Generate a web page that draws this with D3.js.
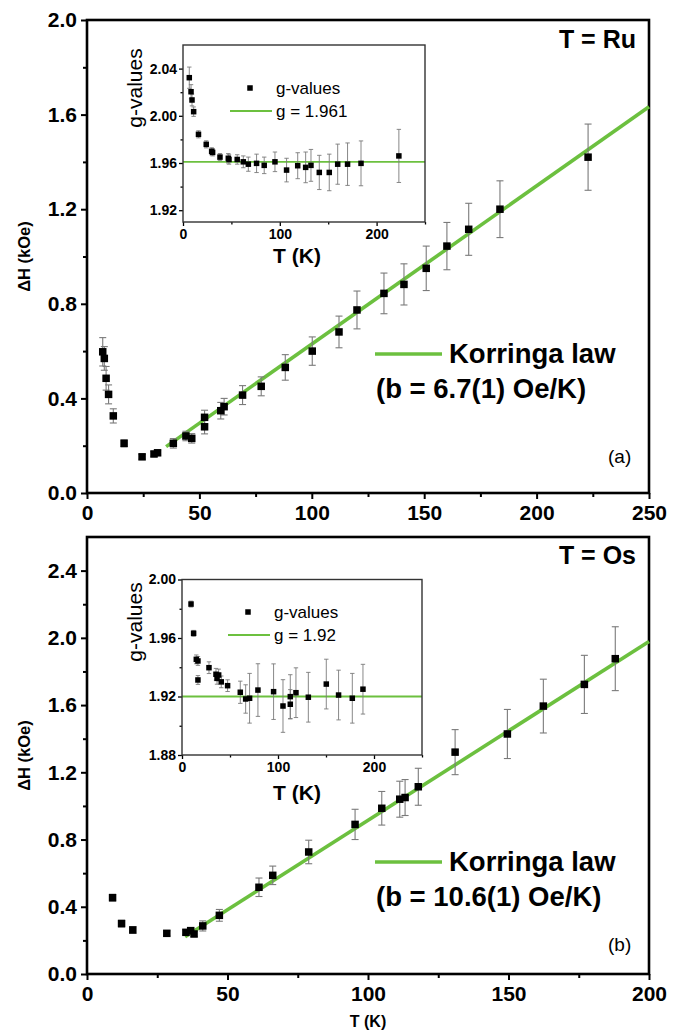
<!DOCTYPE html>
<html><head><meta charset="utf-8">
<script src="https://cdn.jsdelivr.net/npm/d3@7"></script>
<style>
html,body{margin:0;padding:0;background:#fff;}
svg{display:block;font-family:"Liberation Sans",Arial,Helvetica,sans-serif;}
</style></head>
<body>
<svg id="c" width="684" height="1034"></svg>
<script>
// ---------- Panel (a): T = Ru ----------
const tempA = [7.0, 7.7, 8.5, 9.6, 11.7, 16.5, 24.5, 29.8, 31.4, 38.4, 44, 46.6, 52.3, 52.3, 59.5, 61, 69.2, 77.5, 88.2, 100.2, 112.1, 120.1, 132.1, 141, 150.9, 160.1, 169.8, 183.7, 222.9];
const dHA   = [0.597, 0.569, 0.485, 0.417, 0.326, 0.21, 0.153, 0.165, 0.17, 0.21, 0.241, 0.231, 0.32, 0.28, 0.348, 0.365, 0.414, 0.451, 0.531, 0.600, 0.681, 0.774, 0.844, 0.882, 0.95, 1.044, 1.115, 1.20, 1.42];
const errA  = [0.06, 0.05, 0.05, 0.04, 0.03, 0.015, 0.01, 0.01, 0.01, 0.02, 0.02, 0.02, 0.03, 0.03, 0.035, 0.035, 0.04, 0.04, 0.054, 0.06, 0.067, 0.08, 0.086, 0.087, 0.094, 0.10, 0.11, 0.12, 0.14];
const fitA_T  = [35.2, 250];
const fitA_dH = [0.196, 1.633];

const gTempA = [6.5, 8.3, 9.3, 11, 16, 24, 29.6, 30.6, 38.2, 46.8, 47.5, 56, 62.3, 67.5, 76, 83.9, 95, 107, 118.5, 126.7, 132.2, 140.8, 151.1, 159.8, 170, 183.9, 223];
const gA     = [2.0323, 2.0204, 2.0134, 2.0035, 1.9843, 1.9758, 1.9699, 1.969, 1.965, 1.964, 1.963, 1.963, 1.961, 1.959, 1.9597, 1.958, 1.961, 1.954, 1.9577, 1.9563, 1.958, 1.952, 1.952, 1.959, 1.959, 1.9597, 1.966];
const gErrA  = [0.009, 0.006, 0.005, 0.004, 0.003, 0.003, 0.003, 0.003, 0.003, 0.004, 0.004, 0.004, 0.005, 0.006, 0.0078, 0.007, 0.0083, 0.01, 0.011, 0.013, 0.0135, 0.0145, 0.0155, 0.017, 0.018, 0.019, 0.0225];
const gFitA  = 1.961;

// ---------- Panel (b): T = Os ----------
const tempB = [9.1, 12.3, 16.3, 28.4, 35.2, 36.9, 38.1, 41.2, 47.1, 61.2, 66.1, 78.9, 95.4, 104.9, 111.3, 113.2, 117.9, 131, 149.6, 162.4, 177, 188];
const dHB   = [0.454, 0.30, 0.262, 0.242, 0.248, 0.258, 0.238, 0.286, 0.349, 0.516, 0.587, 0.726, 0.89, 0.986, 1.04, 1.05, 1.114, 1.32, 1.428, 1.594, 1.723, 1.876];
const errB  = [0.02, 0.02, 0.02, 0.015, 0.015, 0.015, 0.015, 0.03, 0.035, 0.055, 0.055, 0.07, 0.09, 0.1, 0.107, 0.107, 0.11, 0.134, 0.146, 0.16, 0.173, 0.19];
const fitB_T  = [34.9, 200];
const fitB_dH = [0.222, 1.978];

const gTempB = [9.4, 12.1, 14.9, 16.6, 16.6, 28.1, 35.4, 38.2, 36.5, 40.9, 47.5, 60.7, 66.3, 70.4, 79.1, 95.4, 105.2, 112.8, 112.8, 118.7, 131.6, 150.3, 163.1, 177.4, 188.5];
const gB     = [1.9832, 1.9632, 1.9454, 1.9443, 1.9313, 1.9397, 1.9352, 1.9347, 1.9324, 1.930, 1.9274, 1.9229, 1.9183, 1.9188, 1.9244, 1.9233, 1.9135, 1.9199, 1.9147, 1.9226, 1.9195, 1.9285, 1.921, 1.9188, 1.925];
const gErrB  = [0.002, 0.002, 0.003, 0.003, 0.003, 0.004, 0.004, 0.004, 0.004, 0.004, 0.004, 0.0076, 0.0097, 0.017, 0.018, 0.019, 0.018, 0.015, 0.01, 0.017, 0.017, 0.017, 0.017, 0.017, 0.017];
const gFitB  = 1.92;

// ---------- tick labels ----------
const xTicksA = [0, 50, 100, 150, 200, 250];
const yTicksA = [0.0, 0.4, 0.8, 1.2, 1.6, 2.0];
const xTicksB = [0, 50, 100, 150, 200];
const yTicksB = [0.0, 0.4, 0.8, 1.2, 1.6, 2.0, 2.4];
const gxTicks = [0, 100, 200];
const gyTicksA = [1.92, 1.96, 2.00, 2.04];
const gyTicksB = [1.88, 1.92, 1.96, 2.00];

const GREEN = "#6cc03f";
const svg = d3.select("#c");

function seq(a, b, s){ const r=[]; for(let v=a; v<=b+1e-9; v+=s) r.push(+v.toFixed(4)); return r; }

function drawAxes(g, x, y, o){
  g.append("g").attr("transform",`translate(0,${y.range()[0]})`)
    .call(d3.axisBottom(x).tickValues(o.xMinor).tickSize(o.minor).tickFormat(""))
    .call(s=>{s.select(".domain").remove(); s.selectAll("line").attr("stroke","#000").attr("stroke-width",o.tw);});
  g.append("g").attr("transform",`translate(${x.range()[0]},0)`)
    .call(d3.axisLeft(y).tickValues(o.yMinor).tickSize(o.minor).tickFormat(""))
    .call(s=>{s.select(".domain").remove(); s.selectAll("line").attr("stroke","#000").attr("stroke-width",o.tw);});
  g.append("g").attr("transform",`translate(0,${y.range()[0]})`)
    .call(d3.axisBottom(x).tickValues(o.xTicks).tickSize(o.major).tickPadding(o.xpad).tickFormat(d3.format("d")))
    .call(s=>{s.select(".domain").remove(); s.selectAll("line").attr("stroke","#000").attr("stroke-width",o.tw);
      s.selectAll("text").attr("fill","#000").attr("font-size",o.fs).attr("font-weight","bold").attr("font-family","Liberation Sans, Arial, sans-serif");});
  g.append("g").attr("transform",`translate(${x.range()[0]},0)`)
    .call(d3.axisLeft(y).tickValues(o.yTicks).tickSize(o.major).tickPadding(o.ypad).tickFormat(d3.format(o.yfmt)))
    .call(s=>{s.select(".domain").remove(); s.selectAll("line").attr("stroke","#000").attr("stroke-width",o.tw);
      s.selectAll("text").attr("fill","#000").attr("font-size",o.fs).attr("font-weight","bold").attr("font-family","Liberation Sans, Arial, sans-serif");});
  g.append("rect").attr("x",x.range()[0]).attr("y",y.range()[1])
    .attr("width",x.range()[1]-x.range()[0]).attr("height",y.range()[0]-y.range()[1])
    .attr("fill","none").attr("stroke",o.frameColor).attr("stroke-width",o.fw);
}

function drawPoints(g, x, y, T, V, E, sz, cap, ew){
  const d = T.map((t,i)=>({t, v:V[i], e:E[i]}));
  const eb = g.append("g").attr("stroke","#7a7a7a").attr("stroke-width",ew);
  eb.selectAll(".ev").data(d).join("line")
    .attr("x1",p=>x(p.t)).attr("x2",p=>x(p.t)).attr("y1",p=>y(p.v-p.e)).attr("y2",p=>y(p.v+p.e));
  eb.selectAll(".et").data(d).join("line")
    .attr("x1",p=>x(p.t)-cap).attr("x2",p=>x(p.t)+cap).attr("y1",p=>y(p.v+p.e)).attr("y2",p=>y(p.v+p.e));
  eb.selectAll(".eb").data(d).join("line")
    .attr("x1",p=>x(p.t)-cap).attr("x2",p=>x(p.t)+cap).attr("y1",p=>y(p.v-p.e)).attr("y2",p=>y(p.v-p.e));
  g.append("g").selectAll("rect").data(d).join("rect")
    .attr("x",p=>x(p.t)-sz/2).attr("y",p=>y(p.v)-sz/2).attr("width",sz).attr("height",sz).attr("fill","#000");
}

function mainPanel(cfg){
  const g = svg.append("g");
  const x = d3.scaleLinear().domain(cfg.xDom).range([87,649]);
  const y = d3.scaleLinear().domain(cfg.yDom).range(cfg.yRange);
  drawAxes(g, x, y, {xTicks:cfg.xTicks, yTicks:cfg.yTicks, xMinor:cfg.xMinor, yMinor:cfg.yMinor,
    major:6, minor:4, tw:2, fs:"21px", xpad:6, ypad:4, yfmt:".1f", frameColor:"#000", fw:2.6});
  g.append("line").attr("x1",x(cfg.fitT[0])).attr("y1",y(cfg.fitV[0])).attr("x2",x(cfg.fitT[1])).attr("y2",y(cfg.fitV[1]))
    .attr("stroke",GREEN).attr("stroke-width",3.6);
  drawPoints(g, x, y, cfg.T, cfg.V, cfg.E, 7.5, 3.5, 1.1);
  const yc = (cfg.yRange[0]+cfg.yRange[1])/2;
  g.append("text").attr("transform",`translate(30,${yc}) rotate(-90)`).attr("text-anchor","middle")
    .attr("font-size","16.5px").attr("font-weight","bold").text("ΔH (kOe)");
  g.append("text").attr("x",636).attr("y",cfg.titleY).attr("text-anchor","end")
    .attr("font-size","25px").attr("font-weight","bold").text(cfg.title);
  g.append("line").attr("x1",375).attr("x2",442).attr("y1",cfg.legY).attr("y2",cfg.legY).attr("stroke",GREEN).attr("stroke-width",3.6);
  g.append("text").attr("x",449).attr("y",cfg.legY+9).attr("font-size","27.5px").attr("font-weight","bold").text("Korringa law");
  g.append("text").attr("x",376).attr("y",cfg.legY+44).attr("font-size","27.5px").attr("font-weight","bold").text(cfg.bText);
  g.append("text").attr("x",608).attr("y",cfg.tagY).attr("font-size","19px").text(cfg.tag);
  return g;
}

function inset(cfg){
  const g = svg.append("g");
  const x = d3.scaleLinear().domain([0,250]).range(cfg.xRange);
  const y = d3.scaleLinear().domain(cfg.yDom).range(cfg.yRange);
  g.append("rect").attr("x",cfg.xRange[0]).attr("y",cfg.yRange[1]).attr("width",cfg.xRange[1]-cfg.xRange[0])
    .attr("height",cfg.yRange[0]-cfg.yRange[1]).attr("fill","#fff");
  g.append("line").attr("x1",x(0)).attr("x2",x(250)).attr("y1",y(cfg.gFit)).attr("y2",y(cfg.gFit))
    .attr("stroke",GREEN).attr("stroke-width",1.8);
  drawPoints(g, x, y, cfg.T, cfg.V, cfg.E, 5.5, 2.2, 0.9);
  drawAxes(g, x, y, {xTicks:gxTicks, yTicks:cfg.yTicks, xMinor:[50,150,250], yMinor:cfg.yMinor,
    major:4, minor:2.5, tw:1.3, fs:"14px", xpad:3, ypad:2, yfmt:".2f", frameColor:"#333", fw:1.4});
  g.append("text").attr("x",297).attr("y",cfg.xlabY).attr("text-anchor","middle")
    .attr("font-size","21px").attr("font-weight","bold").text("T (K)");
  g.append("text").attr("transform",`translate(142,${cfg.ylabY}) rotate(-90)`).attr("text-anchor","middle")
    .attr("font-size","21px").text("g-values");
  g.append("rect").attr("x",cfg.legX-2.75).attr("y",cfg.legY-2.75).attr("width",5.5).attr("height",5.5).attr("fill","#000");
  g.append("text").attr("x",cfg.legX+26).attr("y",cfg.legY+6).attr("font-size","17px").text("g-values");
  g.append("line").attr("x1",cfg.legX-20).attr("x2",cfg.legX+22).attr("y1",cfg.legY+23).attr("y2",cfg.legY+23)
    .attr("stroke",GREEN).attr("stroke-width",1.8);
  g.append("text").attr("x",cfg.legX+26).attr("y",cfg.legY+29).attr("font-size","17px").text(cfg.gText);
}

mainPanel({xDom:[0,250], yDom:[0,2.0], yRange:[493,20], xTicks:xTicksA, yTicks:yTicksA,
  xMinor:seq(25,225,50), yMinor:seq(0.2,1.8,0.4), T:tempA, V:dHA, E:errA, fitT:fitA_T, fitV:fitA_dH,
  title:"T = Ru", titleY:48, legY:354, bText:"(b = 6.7(1) Oe/K)", tag:"(a)", tagY:463});
inset({xRange:[183,425], yDom:[1.91,2.06], yRange:[222,45], yTicks:gyTicksA, yMinor:[1.94,1.98,2.02],
  T:gTempA, V:gA, E:gErrA, gFit:gFitA, xlabY:263, ylabY:88, legX:250, legY:88, gText:"g = 1.961"});

mainPanel({xDom:[0,200], yDom:[0,2.6], yRange:[974,537], xTicks:xTicksB, yTicks:yTicksB,
  xMinor:seq(25,175,50), yMinor:seq(0.2,2.2,0.4), T:tempB, V:dHB, E:errB, fitT:fitB_T, fitV:fitB_dH,
  title:"T = Os", titleY:564, legY:862, bText:"(b = 10.6(1) Oe/K)", tag:"(b)", tagY:951});
inset({xRange:[182,422], yDom:[1.88,2.00], yRange:[755,579.5], yTicks:gyTicksB, yMinor:[1.90,1.94,1.98],
  T:gTempB, V:gB, E:gErrB, gFit:gFitB, xlabY:800, ylabY:622, legX:248, legY:612, gText:"g = 1.92"});

svg.append("text").attr("x",368).attr("y",1027).attr("text-anchor","middle")
  .attr("font-size","16px").attr("font-weight","bold").text("T (K)");
</script>
</body></html>
